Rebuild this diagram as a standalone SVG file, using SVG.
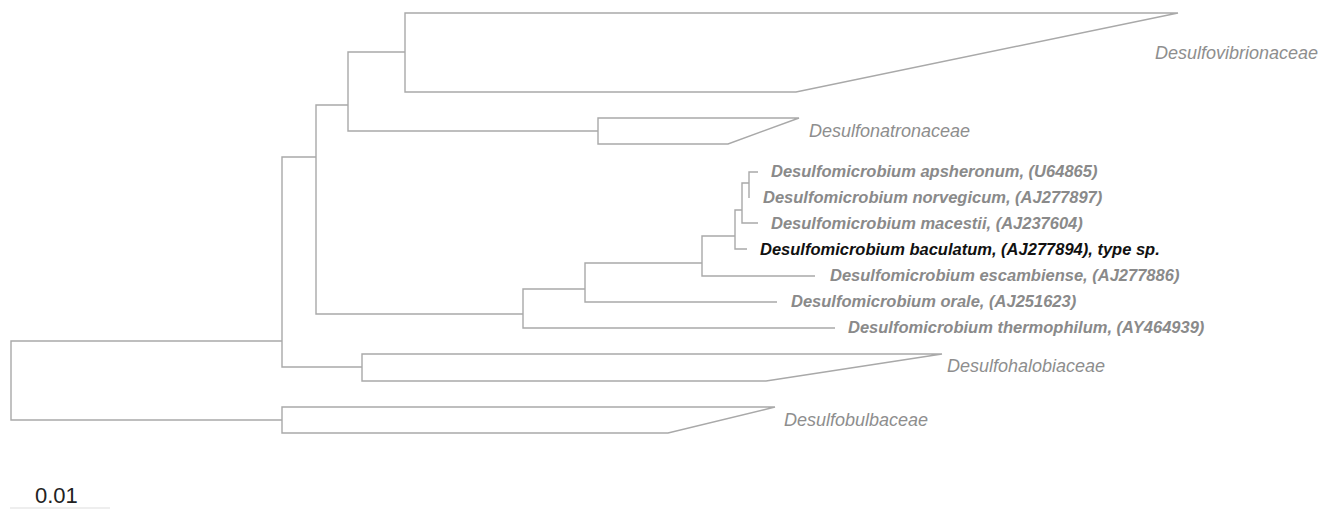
<svg xmlns="http://www.w3.org/2000/svg" width="1332" height="509" viewBox="0 0 1332 509">
<style>
.br{fill:none;stroke:#a9a9a9;stroke-width:1.4;stroke-linejoin:miter}
.fam{font-family:"Liberation Sans",Arial,sans-serif;font-style:italic;font-size:18px;fill:#8e8e8e}
.sp{font-family:"Liberation Sans",Arial,sans-serif;font-style:italic;font-weight:bold;font-size:16.5px;fill:#8a8a8a}
.type{fill:#111111}
.scale{font-family:"Liberation Sans",Arial,sans-serif;font-size:22px;fill:#222222}
</style>
<rect width="1332" height="509" fill="#ffffff"/>
<g id="connectors">
<path class="br" d="M282,341 H11 V420 H282"/>
<path class="br" d="M316,157 H282 V367 H362"/>
<path class="br" d="M348,105 H316 V314 H523"/>
<path class="br" d="M405,52 H348 V131 H598"/>
<path class="br" d="M585,289 H523 V328 H835"/>
<path class="br" d="M702,263 H585 V302 H777"/>
<path class="br" d="M735,236 H702 V276 H815"/>
<path class="br" d="M742,210 H735 V249 H747"/>
<path class="br" d="M749,183 H742 V223 H758"/>
<path class="br" d="M758,172 H749 V198"/>
</g>
<g id="desulfovibrionaceae">
<path class="br" d="M405,13 H1178 L796,92 H405 Z"/>
<text class="fam" x="1155" y="59">Desulfovibrionaceae</text>
</g>
<g id="desulfonatronaceae">
<path class="br" d="M598,118 H799 L728,144 H598 Z"/>
<text class="fam" x="809" y="137">Desulfonatronaceae</text>
</g>
<g id="desulfohalobiaceae">
<path class="br" d="M362,354 H942 L766,381 H362 Z"/>
<text class="fam" x="947" y="372">Desulfohalobiaceae</text>
</g>
<g id="desulfobulbaceae">
<path class="br" d="M282,407 H775 L668,433 H282 Z"/>
<text class="fam" x="784" y="426">Desulfobulbaceae</text>
</g>
<g id="apsheronum"><text class="sp" x="771" y="177">Desulfomicrobium apsheronum, (U64865)</text></g>
<g id="norvegicum"><text class="sp" x="763" y="203">Desulfomicrobium norvegicum, (AJ277897)</text></g>
<g id="macestii"><text class="sp" x="771" y="229">Desulfomicrobium macestii, (AJ237604)</text></g>
<g id="baculatum"><text class="sp type" x="760" y="255">Desulfomicrobium baculatum, (AJ277894), type sp.</text></g>
<g id="escambiense"><text class="sp" x="830" y="281">Desulfomicrobium escambiense, (AJ277886)</text></g>
<g id="orale"><text class="sp" x="791" y="307">Desulfomicrobium orale, (AJ251623)</text></g>
<g id="thermophilum"><text class="sp" x="848" y="333">Desulfomicrobium thermophilum, (AY464939)</text></g>
<g id="scale">
<text class="scale" x="35" y="503">0.01</text>
<line x1="10" y1="508" x2="110" y2="508" stroke="#dddddd" stroke-width="1"/>
</g>
</svg>
